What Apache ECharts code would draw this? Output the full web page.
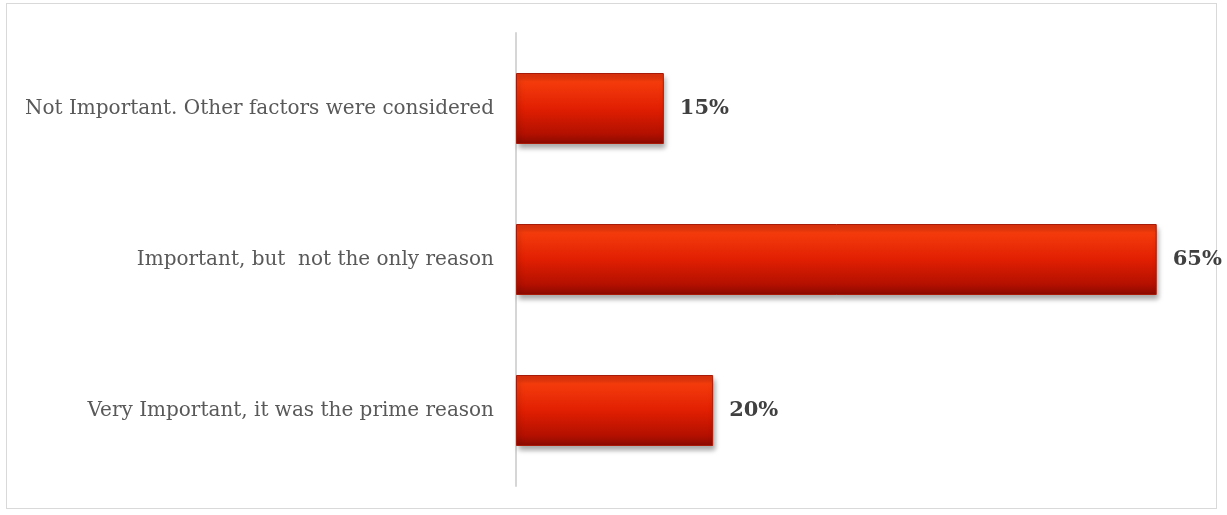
<!DOCTYPE html>
<html>
<head>
<meta charset="utf-8">
<script src="https://cdn.jsdelivr.net/npm/echarts@6/dist/echarts.min.js"></script>
<style>
  html, body { margin: 0; padding: 0; background: #ffffff; }
  #frame { position: absolute; left: 6px; top: 3px; width: 1211px; height: 506px; border: 1.5px solid #d9d9d9; box-sizing: border-box; }
  #chart { position: absolute; left: 0; top: 0; width: 1227px; height: 515px; }
</style>
</head>
<body>
<div id="frame"></div>
<div id="chart"></div>
<script>
// Survey answers, listed bottom to top as drawn on the category axis
const categories = [
  'Very Important, it was the prime reason',
  'Important, but  not the only reason',
  'Not Important. Other factors were considered'
];
const shares = [20, 65, 15];

const chart = echarts.init(document.getElementById('chart'));

const barFill = new echarts.graphic.LinearGradient(0, 0, 0, 1, [
  { offset: 0, color: '#d8300e' },
  { offset: 0.12, color: '#f53c0c' },
  { offset: 0.5, color: '#e11f02' },
  { offset: 0.85, color: '#b41000' },
  { offset: 1, color: '#8a0a00' }
]);

chart.setOption({
  animation: false,
  grid: { left: 516, right: 21, top: 33, bottom: 29, containLabel: false },
  xAxis: {
    type: 'value',
    min: 0,
    max: 70,
    show: false
  },
  yAxis: {
    type: 'category',
    data: categories,
    axisLine: { show: true, lineStyle: { color: '#d6d6d6', width: 2 } },
    axisTick: { show: false },
    axisLabel: {
      color: '#595959',
      fontFamily: 'DejaVu Serif',
      fontSize: 20,
      margin: 22
    }
  },
  series: [{
    type: 'bar',
    data: shares,
    barWidth: 71,
    itemStyle: {
      color: barFill,
      borderColor: '#a81a08',
      borderWidth: 1,
      shadowColor: 'rgba(0,0,0,0.35)',
      shadowBlur: 5,
      shadowOffsetX: 2,
      shadowOffsetY: 4
    },
    label: {
      show: true,
      position: 'right',
      distance: 16,
      formatter: '{c}%',
      color: '#404040',
      fontFamily: 'DejaVu Serif',
      fontWeight: 'bold',
      fontSize: 21
    }
  }]
});
</script>
</body>
</html>
